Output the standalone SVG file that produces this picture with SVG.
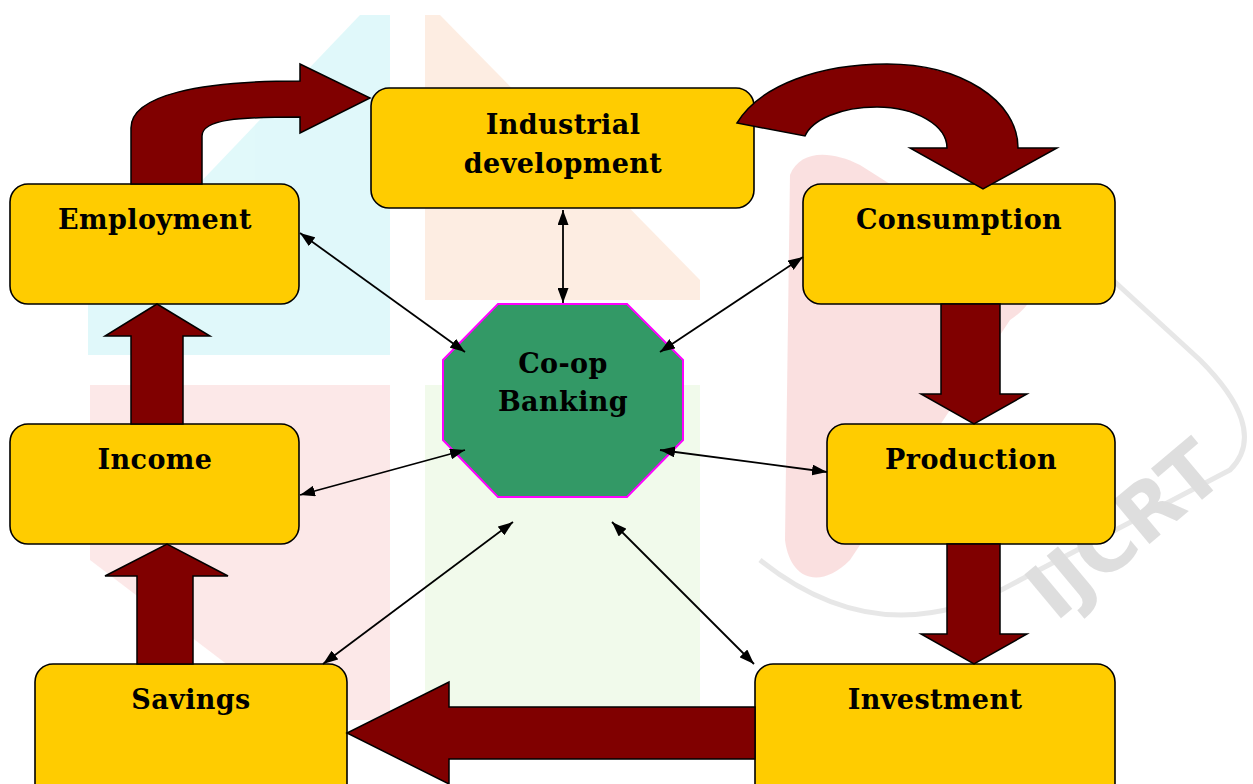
<svg xmlns="http://www.w3.org/2000/svg" width="1253" height="784" viewBox="0 0 1253 784">
<defs>
<style>
.box{fill:#FFCC00;stroke:#000;stroke-width:1.6}
.lbl{font-family:"DejaVu Serif","Liberation Serif",serif;font-weight:bold;font-size:27px;letter-spacing:0.4px;fill:#000;text-anchor:middle}
.blk{fill:#800000;stroke:#000;stroke-width:1.5;stroke-linejoin:miter}
.con{stroke:#000;stroke-width:1.8;fill:none;marker-start:url(#ah);marker-end:url(#ah)}
.wm{stroke:none}
</style>
<marker id="ah" viewBox="0 0 15 11" refX="15" refY="5.5" markerWidth="15" markerHeight="11" markerUnits="userSpaceOnUse" orient="auto-start-reverse">
<path d="M0,0 L15,5.5 L0,11 Z" fill="#000"/>
</marker>
</defs>
<rect width="1253" height="784" fill="#fff"/>
<g id="watermark" opacity="0.55">
<polygon class="wm" fill="#c8f4f6" points="88,345 88,300 360,15 390,15 390,355 88,355"/>
<polygon class="wm" fill="#fde0cc" points="425,15 440,15 700,280 700,300 425,300"/>
<polygon class="wm" fill="#fad6d6" points="90,385 390,385 390,720 300,720 90,560"/>
<polygon class="wm" fill="#e6f6dc" points="425,385 700,385 700,720 425,720"/>
<path class="wm" fill="#f7c8c8" d="M790,175 C800,150 830,150 860,165 L1010,260 C1040,280 1040,300 1010,320 L850,560 C820,590 790,580 785,540 Z"/>
<path fill="none" stroke="#d4d4d4" stroke-width="5" d="M760,560 C860,640 950,620 1020,580 L1230,470 C1260,440 1240,400 1200,360 L1080,250"/>
<text x="1228" y="478" transform="rotate(-40 1228 478)" font-family="DejaVu Sans,sans-serif" font-weight="bold" font-size="78" fill="#c4c4c4" text-anchor="end">IJCRT</text>
</g>
<g id="industrial">
<rect class="box" x="371" y="88" width="383" height="120" rx="18"/>
<text class="lbl" x="563" y="134">Industrial</text>
<text class="lbl" x="563" y="173">development</text>
</g>
<g id="employment">
<rect class="box" x="10" y="184" width="289" height="120" rx="18"/>
<text class="lbl" x="155" y="229">Employment</text>
</g>
<g id="consumption">
<rect class="box" x="803" y="184" width="312" height="120" rx="18"/>
<text class="lbl" x="959" y="229">Consumption</text>
</g>
<g id="income">
<rect class="box" x="10" y="424" width="289" height="120" rx="18"/>
<text class="lbl" x="155" y="469">Income</text>
</g>
<g id="production">
<rect class="box" x="827" y="424" width="288" height="120" rx="18"/>
<text class="lbl" x="971" y="469">Production</text>
</g>
<g id="savings">
<rect class="box" x="35" y="664" width="312" height="140" rx="18"/>
<text class="lbl" x="191" y="709">Savings</text>
</g>
<g id="investment">
<rect class="box" x="755" y="664" width="360" height="140" rx="18"/>
<text class="lbl" x="935" y="709">Investment</text>
</g>
<g id="coop">
<polygon fill="#339966" stroke="#FF00FF" stroke-width="2" points="498,304 627,304 683,360 683,440 627,497 498,497 443,440 443,360"/>
<text class="lbl" x="563" y="373">Co-op</text>
<text class="lbl" x="563" y="411">Banking</text>
</g>
<g id="flow-arrows">
<path class="blk" d="M131,184 L131,128 C131,95 200,81 300,81 L300,64 L370,98 L300,133 L300,117 C240,117 202,119 202,136 L202,184 Z"/>
<path class="blk" d="M737,123 C760,85 820,64 887,64 C960,64 1018,100 1018,148 L1057,148 L983,189 L910,148 L947,148 C947,125 915,107 877,107 C840,107 812,120 805,136 Z"/>
<path class="blk" d="M941,304 L1000,304 L1000,394 L1027,394 L974,424 L921,394 L941,394 Z"/>
<path class="blk" d="M947,544 L1000,544 L1000,634 L1027,634 L974,664 L921,634 L947,634 Z"/>
<path class="blk" d="M755,707 L449,707 L449,682 L347,733 L449,784 L449,759 L755,759 Z"/>
<path class="blk" d="M137,664 L137,576 L105,576 L167,544 L228,576 L193,576 L193,664 Z"/>
<path class="blk" d="M131,424 L131,336 L105,336 L157,304 L210,336 L183,336 L183,424 Z"/>
</g>
<g id="connectors">
<line class="con" x1="563" y1="210" x2="563" y2="303"/>
<line class="con" x1="300" y1="233" x2="465" y2="352"/>
<line class="con" x1="803" y1="257" x2="660" y2="352"/>
<line class="con" x1="300" y1="495" x2="465" y2="450"/>
<line class="con" x1="660" y1="450" x2="827" y2="472"/>
<line class="con" x1="323" y1="664" x2="513" y2="522"/>
<line class="con" x1="612" y1="522" x2="754" y2="664"/>
</g>
</svg>
